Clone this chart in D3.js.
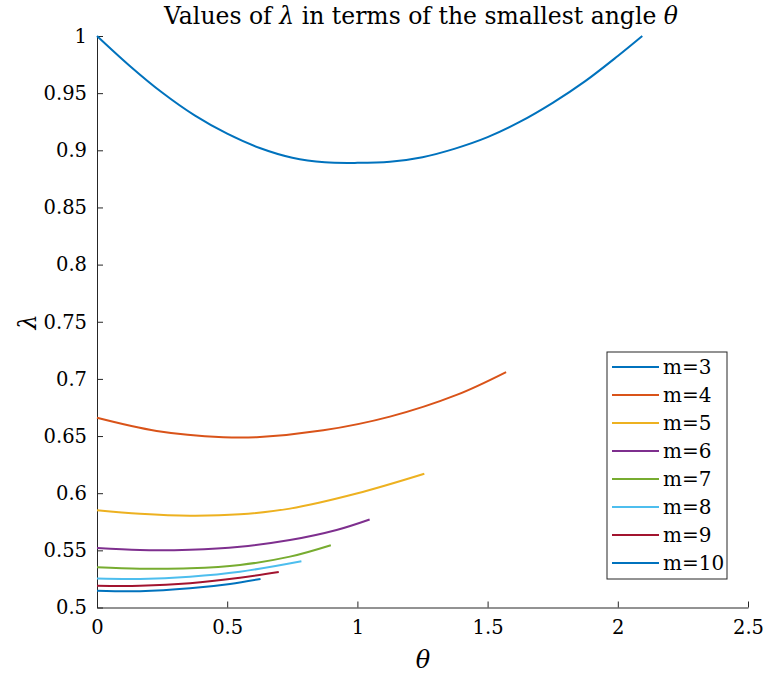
<!DOCTYPE html>
<html>
<head>
<meta charset="utf-8">
<script src="https://cdn.jsdelivr.net/npm/d3@7"></script>
<style>
  body { margin: 0; background: #fff; }
  svg text { font-family: "DejaVu Serif", serif; fill: #000; }
  .axis path, .axis line { stroke: #262626; }
</style>
</head>
<body>
<div class="chart"></div>
<script>
var svgWidth = 765;
var svgHeight = 674;

// plot box (pixel edges of the axes)
var margin = { top: 36, right: 17, bottom: 66.5, left: 97 };
var width = svgWidth - margin.left - margin.right;
var height = svgHeight - margin.top - margin.bottom;

// Data: theta samples and lambda values per m
var seriesNames = ["m=3", "m=4", "m=5", "m=6", "m=7", "m=8", "m=9", "m=10"];
var colors = ["#0072BD", "#D95319", "#EDB120", "#7E2F8E", "#77AC30", "#4DBEEE", "#A2142F", "#0072BD"];

var theta3 = [0, 0.125, 0.25, 0.375, 0.5, 0.625, 0.75, 0.875, 1.0, 1.125, 1.25, 1.375, 1.5, 1.625, 1.75, 1.875, 2.0, 2.094];
var lambda3 = [1, 0.974, 0.9505, 0.9305, 0.9145, 0.902, 0.8935, 0.8895, 0.889, 0.890, 0.894, 0.9015, 0.9115, 0.925, 0.9415, 0.9605, 0.9825, 1];

var theta4 = [0, 0.229, 0.485, 0.613, 0.869, 1.125, 1.381, 1.571];
var lambda4 = [0.666, 0.6545, 0.649, 0.649, 0.655, 0.667, 0.686, 0.706];

var theta5 = [0, 0.165, 0.357, 0.549, 0.741, 0.997, 1.257];
var lambda5 = [0.585, 0.582, 0.5803, 0.5815, 0.5865, 0.5997, 0.617];

var theta6 = [0, 0.165, 0.357, 0.549, 0.741, 0.92, 1.047];
var lambda6 = [0.552, 0.5503, 0.5506, 0.5532, 0.559, 0.5678, 0.577];

var theta7 = [0, 0.165, 0.357, 0.549, 0.741, 0.898];
var lambda7 = [0.5352, 0.5340, 0.5343, 0.5372, 0.5445, 0.5545];

var theta8 = [0, 0.165, 0.357, 0.549, 0.785];
var lambda8 = [0.5253, 0.5250, 0.527, 0.5313, 0.5405];

var theta9 = [0, 0.165, 0.357, 0.549, 0.698];
var lambda9 = [0.519, 0.519, 0.5212, 0.526, 0.531];

var theta10 = [0, 0.165, 0.357, 0.511, 0.628];
var lambda10 = [0.5147, 0.5143, 0.5168, 0.5206, 0.525];

var thetas = [theta3, theta4, theta5, theta6, theta7, theta8, theta9, theta10];
var lambdas = [lambda3, lambda4, lambda5, lambda6, lambda7, lambda8, lambda9, lambda10];

var xTicks = [0, 0.5, 1, 1.5, 2, 2.5];
var xTickLabels = ["0", "0.5", "1", "1.5", "2", "2.5"];
var yTicks = [0.5, 0.55, 0.6, 0.65, 0.7, 0.75, 0.8, 0.85, 0.9, 0.95, 1];
var yTickLabels = ["0.5", "0.55", "0.6", "0.65", "0.7", "0.75", "0.8", "0.85", "0.9", "0.95", "1"];

var svg = d3.select(".chart")
  .append("svg")
  .attr("width", svgWidth)
  .attr("height", svgHeight);

var chartGroup = svg.append("g")
  .attr("transform", `translate(${margin.left}, ${margin.top})`);

var xScale = d3.scaleLinear().domain([0, 2.5]).range([0, width]);
var yScale = d3.scaleLinear().domain([0.5, 1]).range([height, 0]);

// axes with inward ticks, box off
var bottomAxis = d3.axisBottom(xScale)
  .tickValues(xTicks)
  .tickFormat((d, i) => xTickLabels[i])
  .tickSizeInner(-6)
  .tickSizeOuter(0)
  .tickPadding(13);

var leftAxis = d3.axisLeft(yScale)
  .tickValues(yTicks)
  .tickFormat((d, i) => yTickLabels[i])
  .tickSizeInner(-6)
  .tickSizeOuter(0)
  .tickPadding(10);

chartGroup.append("g")
  .attr("class", "axis")
  .attr("transform", `translate(0, ${height})`)
  .call(bottomAxis)
  .selectAll("text")
  .style("font-size", "19.5px");

chartGroup.append("g")
  .attr("class", "axis")
  .call(leftAxis)
  .selectAll("text")
  .style("font-size", "19.5px");

// curves
var line = d3.line()
  .x(d => xScale(d[0]))
  .y(d => yScale(d[1]))
  .curve(d3.curveCatmullRom);

seriesNames.forEach(function(name, i) {
  var pts = thetas[i].map((t, j) => [t, lambdas[i][j]]);
  chartGroup.append("path")
    .datum(pts)
    .attr("fill", "none")
    .attr("stroke", colors[i])
    .attr("stroke-width", 2)
    .attr("d", line);
});

// title
svg.append("text")
  .attr("x", 421)
  .attr("y", 24)
  .attr("text-anchor", "middle")
  .attr("font-size", 23.5)
  .html('Values of <tspan font-style="italic">λ</tspan> in terms of the smallest angle <tspan font-style="italic">θ</tspan>');

// axis labels
svg.append("text")
  .attr("transform", "translate(36, 322) rotate(-90)")
  .attr("text-anchor", "middle")
  .attr("font-size", 24)
  .attr("font-style", "italic")
  .text("λ");

svg.append("text")
  .attr("x", 423)
  .attr("y", 668)
  .attr("text-anchor", "middle")
  .attr("font-size", 24)
  .attr("font-style", "italic")
  .text("θ");

// legend
var legend = svg.append("g").attr("transform", "translate(607, 352)");
legend.append("rect")
  .attr("width", 120)
  .attr("height", 227)
  .attr("fill", "#fff")
  .attr("stroke", "#262626")
  .attr("stroke-width", 1);

var rows = legend.selectAll("g.row")
  .data(seriesNames)
  .enter()
  .append("g")
  .attr("class", "row")
  .attr("transform", (d, i) => `translate(0, ${15 + i * 28})`);

rows.append("line")
  .attr("x1", 5)
  .attr("x2", 52)
  .attr("stroke", (d, i) => colors[i])
  .attr("stroke-width", 2);

rows.append("text")
  .attr("x", 56)
  .attr("y", 7)
  .style("font-size", "20px")
  .text(d => d);
</script>
</body>
</html>
